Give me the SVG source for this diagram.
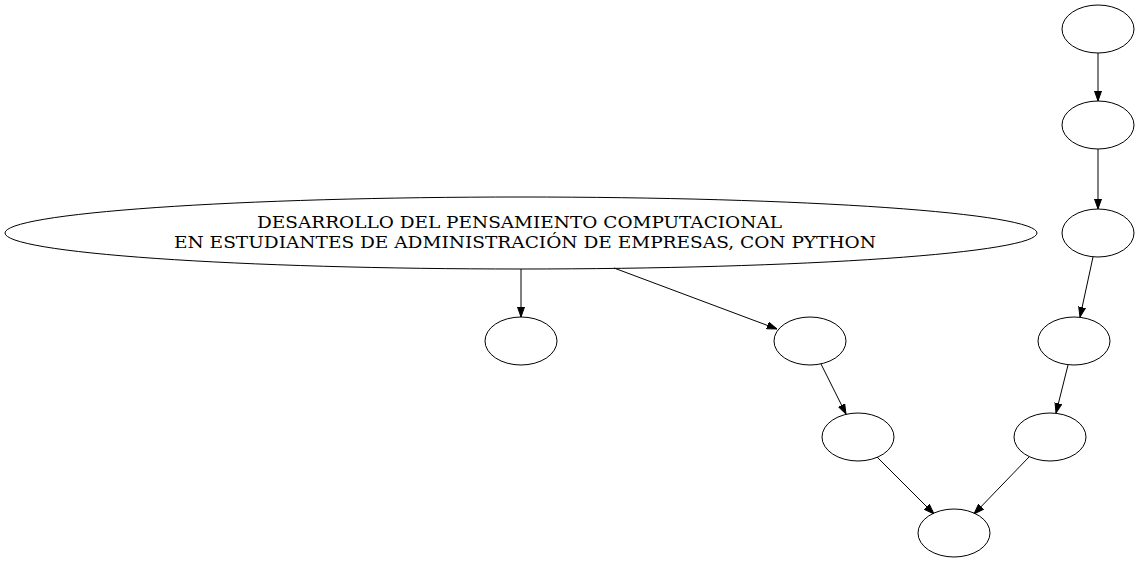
<svg xmlns="http://www.w3.org/2000/svg" width="1139" height="562" viewBox="0 0 1139 562">
<style>
.n ellipse{fill:none;stroke:#000;stroke-width:1}
.e line{stroke:#000;stroke-width:1}
text{font-family:"DejaVu Serif","Liberation Serif",serif;font-size:17px;text-anchor:middle}
</style>
<defs>
<marker id="ah" markerWidth="10" markerHeight="8" refX="10" refY="4" orient="auto" markerUnits="userSpaceOnUse">
<polygon points="0,0.5 10,4 0,7.5" fill="#000" stroke="#000"/>
</marker>
</defs>
<rect width="1139" height="562" fill="#fff"/>
<g id="main" class="n">
<ellipse cx="521" cy="233" rx="516" ry="36"/>
<text x="519.5" y="228" textLength="525" lengthAdjust="spacingAndGlyphs">DESARROLLO DEL PENSAMIENTO COMPUTACIONAL</text>
<text x="525" y="248" textLength="702" lengthAdjust="spacingAndGlyphs">EN ESTUDIANTES DE ADMINISTRACIÓN DE EMPRESAS, CON PYTHON</text>
</g>
<g id="a" class="n"><ellipse cx="521" cy="341" rx="36" ry="24"/></g>
<g id="b" class="n"><ellipse cx="810" cy="341" rx="36" ry="24"/></g>
<g id="c" class="n"><ellipse cx="858" cy="437" rx="36" ry="24"/></g>
<g id="d" class="n"><ellipse cx="954" cy="533" rx="36" ry="24"/></g>
<g id="r1" class="n"><ellipse cx="1098" cy="29" rx="36" ry="24"/></g>
<g id="r2" class="n"><ellipse cx="1098" cy="125" rx="36" ry="24"/></g>
<g id="r3" class="n"><ellipse cx="1098" cy="233" rx="36" ry="24"/></g>
<g id="r4" class="n"><ellipse cx="1074" cy="341" rx="36" ry="24"/></g>
<g id="r5" class="n"><ellipse cx="1050" cy="437" rx="36" ry="24"/></g>
<g id="edges" class="e">
<line x1="521" y1="269" x2="521" y2="317" marker-end="url(#ah)"/>
<line x1="614" y1="268" x2="777" y2="329" marker-end="url(#ah)"/>
<line x1="821" y1="364" x2="846" y2="414" marker-end="url(#ah)"/>
<line x1="877" y1="457" x2="934" y2="514" marker-end="url(#ah)"/>
<line x1="1098" y1="53" x2="1098" y2="101" marker-end="url(#ah)"/>
<line x1="1098" y1="149" x2="1098" y2="209" marker-end="url(#ah)"/>
<line x1="1093" y1="257" x2="1080" y2="317" marker-end="url(#ah)"/>
<line x1="1068" y1="365" x2="1056" y2="413" marker-end="url(#ah)"/>
<line x1="1029" y1="457" x2="974" y2="514" marker-end="url(#ah)"/>
</g>
</svg>
